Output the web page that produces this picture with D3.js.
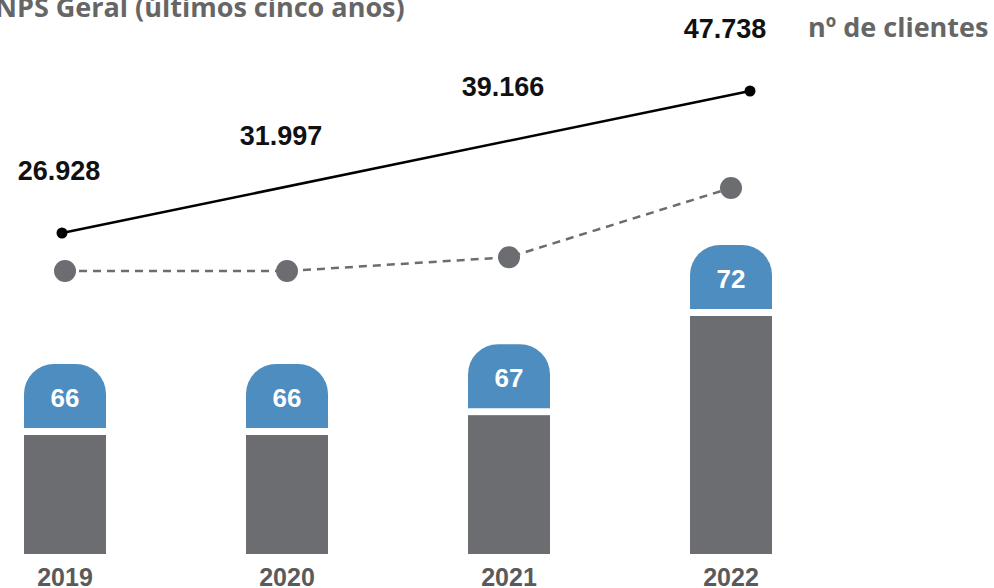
<!DOCTYPE html>
<meta charset="utf-8">
<script src="https://d3js.org/d3.v7.min.js"></script>
<style>
body { margin: 0; background: #fff; }
text { font-family: "Liberation Sans", Arial, sans-serif; font-weight: bold; }
.head { font-family: "Open Sans", sans-serif; }
</style>
<body>
<div id="chart"></div>
<script>
var years = ["2019", "2020", "2021", "2022"];
var nps = [66, 66, 67, 72];
var clientes = [26928, 31997, 39166, 47738];
var clientesLabels = ["26.928", "31.997", "39.166", "47.738"];

var w = 994, h = 588;
var blue = "#4e8dbf", gray = "#6c6d71";

var svg = d3.select("#chart").append("svg")
    .attr("width", w)
    .attr("height", h);

// x positions
var x = d3.scalePoint().domain(years).range([65, 731]);
var xLine = d3.scalePoint().domain(years).range([62, 750]);
var bw = 82;

// bar heights (baseline not at zero)
var yBar = d3.scaleLinear().domain([60, 72]).range([554, 316]);
// nps dashed line
var yN = d3.scaleLinear().domain([66, 72]).range([271, 188]);
// clients line
var yC = d3.scaleLinear().domain([clientes[0], clientes[3]]).range([233, 91]);

// title
svg.append("text")
    .attr("class", "head")
    .attr("x", -5).attr("y", 17)
    .attr("font-size", 27)
    .attr("fill", "#666")
    .text("NPS Geral (últimos cinco anos)");

svg.append("text")
    .attr("class", "head")
    .attr("x", 808).attr("y", 37)
    .attr("font-size", 27)
    .attr("fill", "#666")
    .text("nº de clientes");

// gray bars
svg.append("g").selectAll("rect")
    .data(years)
    .enter().append("rect")
      .attr("x", function(d) { return x(d) - bw / 2; })
      .attr("y", function(d, i) { return yBar(nps[i]); })
      .attr("width", bw)
      .attr("height", function(d, i) { return yBar(60) - yBar(nps[i]); })
      .attr("fill", gray);

// blue caps with rounded top
var capH = 64, gap = 7, r = 30;
function capPath(cx, bottom) {
  var l = cx - bw / 2, rt = cx + bw / 2, top = bottom - capH;
  return "M" + l + "," + bottom +
    "V" + (top + r) +
    "A" + r + "," + r + " 0 0 1 " + (l + r) + "," + top +
    "H" + (rt - r) +
    "A" + r + "," + r + " 0 0 1 " + rt + "," + (top + r) +
    "V" + bottom + "Z";
}
var caps = svg.append("g").selectAll("g")
    .data(years)
    .enter().append("g");
caps.append("path")
    .attr("d", function(d, i) { return capPath(x(d), yBar(nps[i]) - gap); })
    .attr("fill", blue);
caps.append("text")
    .attr("x", function(d) { return x(d); })
    .attr("y", function(d, i) { return yBar(nps[i]) - gap - capH / 2 + 11; })
    .attr("text-anchor", "middle")
    .attr("font-size", 26)
    .attr("fill", "#fff")
    .text(function(d, i) { return nps[i]; });

// year labels
svg.append("g").selectAll("text")
    .data(years)
    .enter().append("text")
      .attr("x", function(d) { return x(d); })
      .attr("y", 586)
      .attr("text-anchor", "middle")
      .attr("font-size", 25)
      .attr("fill", "#5a5a5a")
      .text(function(d) { return d; });

// dashed nps line
var npsLine = d3.line()
    .x(function(d) { return x(d); })
    .y(function(d, i) { return yN(nps[i]); });
svg.append("path")
    .attr("d", npsLine(years))
    .attr("fill", "none")
    .attr("stroke", gray)
    .attr("stroke-width", 2.5)
    .attr("stroke-dasharray", "8,6");
svg.append("g").selectAll("circle")
    .data(years)
    .enter().append("circle")
      .attr("cx", function(d) { return x(d); })
      .attr("cy", function(d, i) { return yN(nps[i]); })
      .attr("r", 11)
      .attr("fill", gray);

// clients line (straight from first to last)
var ends = [0, years.length - 1];
svg.append("line")
    .attr("x1", xLine(years[0])).attr("y1", yC(clientes[0]))
    .attr("x2", xLine(years[3])).attr("y2", yC(clientes[3]))
    .attr("stroke", "#000")
    .attr("stroke-width", 2.5);
svg.append("g").selectAll("circle")
    .data(ends)
    .enter().append("circle")
      .attr("cx", function(i) { return xLine(years[i]); })
      .attr("cy", function(i) { return yC(clientes[i]); })
      .attr("r", 5.5)
      .attr("fill", "#000");

svg.append("g").selectAll("text")
    .data(years)
    .enter().append("text")
      .attr("x", function(d) { return x(d) - 6; })
      .attr("y", function(d, i) { return yC(clientes[i]) - 53; })
      .attr("text-anchor", "middle")
      .attr("font-size", 27)
      .attr("fill", "#111")
      .text(function(d, i) { return clientesLabels[i]; });
</script>
</body>
